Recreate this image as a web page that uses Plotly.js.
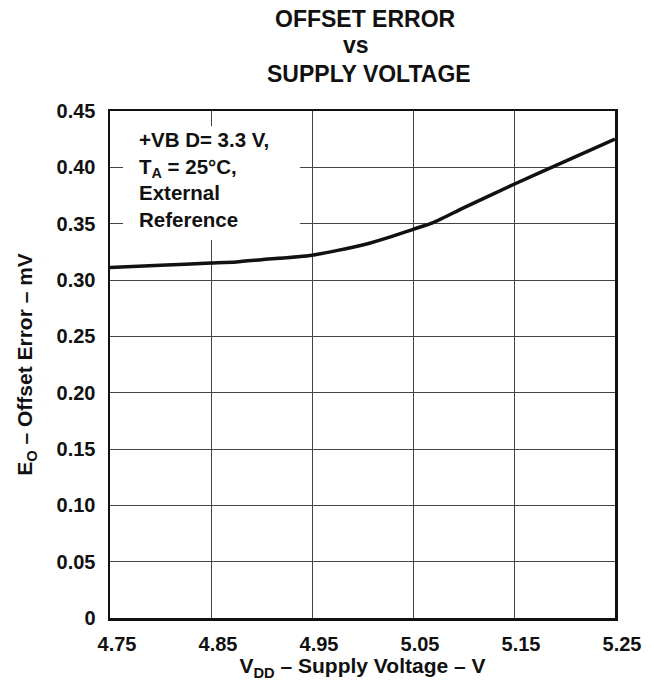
<!DOCTYPE html>
<html><head><meta charset="utf-8">
<script src="https://cdn.plot.ly/plotly-3.0.1.min.js"></script>
<style>body{margin:0;background:#fff}#c{width:654px;height:681px}</style>
</head><body><div id="c"></div>
<script>
var supplyVoltage = [4.75, 4.80, 4.85, 4.875, 4.90, 4.95, 5.00, 5.03, 5.05, 5.07, 5.10, 5.15, 5.20, 5.25];
var offsetError   = [0.311, 0.313, 0.315, 0.316, 0.318, 0.322, 0.331, 0.339, 0.345, 0.351, 0.364, 0.385, 0.405, 0.425];
var xTicks = [4.75, 4.85, 4.95, 5.05, 5.15, 5.25];
var xTickText = ['4.75', '4.85', '4.95', '5.05', '5.15', '5.25'];
var yTicks = [0, 0.05, 0.10, 0.15, 0.20, 0.25, 0.30, 0.35, 0.40, 0.45];
var yTickText = ['0', '0.05', '0.10', '0.15', '0.20', '0.25', '0.30', '0.35', '0.40', '0.45'];
var titleLines = ['OFFSET ERROR', 'vs', 'SUPPLY VOLTAGE'];
var noteText = '+VB D= 3.3 V,<br>T<sub>A</sub> = 25°C,<br>External<br>Reference';

var F = 'Liberation Sans, Arial, Helvetica, sans-serif';
var bold = function (s) { return '<b>' + s + '</b>'; };
var trace = {x: supplyVoltage, y: offsetError, mode: 'lines', line: {color: '#111', width: 3.5, shape: 'spline', smoothing: 0.6}, hoverinfo: 'skip'};

var titlePos = [[0.505, 1.182], [0.487, 1.130], [0.513, 1.073]];
var anns = titleLines.map(function (t, i) {
  return {xref: 'paper', yref: 'paper', x: titlePos[i][0], y: titlePos[i][1], xanchor: 'center', yanchor: 'middle',
    text: bold(t), showarrow: false, font: {family: F, size: 23, color: '#111'}};
});
anns.push({
  xref: 'paper', yref: 'paper', x: 0.0554, y: 0.968, xanchor: 'left', yanchor: 'top', align: 'left',
  text: bold(noteText), showarrow: false, borderpad: 0,
  font: {family: F, size: 20.5, color: '#111'}
});

var layout = {
  width: 654, height: 681,
  margin: {l: 110, r: 39, t: 111, b: 63},
  paper_bgcolor: '#fff', plot_bgcolor: '#fff',
  showlegend: false,
  font: {family: F, color: '#111'},
  xaxis: {range: [4.75, 5.25], tickvals: xTicks, ticktext: xTickText.map(bold), showgrid: true, gridcolor: '#444', gridwidth: 1,
    showline: true, linecolor: '#111', linewidth: 2.5, mirror: true, ticks: '', zeroline: false,
    ticklabelstandoff: 6, ticklabelshift: 7,
    tickfont: {family: F, size: 20, color: '#111'},
    title: {text: bold('V<sub>DD</sub> – Supply Voltage – V'), font: {family: F, size: 21, color: '#111'}, standoff: 2}},
  yaxis: {range: [0, 0.45], tickvals: yTicks, ticktext: yTickText.map(bold), showgrid: true, gridcolor: '#444', gridwidth: 1,
    showline: true, linecolor: '#111', linewidth: 2.5, mirror: true, ticks: '', zeroline: false,
    ticklabelstandoff: 8,
    tickfont: {family: F, size: 20, color: '#111'},
    title: {text: bold('E<sub>O</sub> – Offset Error – mV'), font: {family: F, size: 21, color: '#111'}, standoff: 18}},
  shapes: [{type: 'rect', xref: 'paper', yref: 'paper', x0: 0.0257, x1: 0.376, y0: 0.7456, y1: 0.970,
    fillcolor: '#fff', line: {width: 0}, layer: 'above'}],
  annotations: anns
};
Plotly.newPlot('c', [trace], layout, {displayModeBar: false, staticPlot: true});
</script></body></html>
